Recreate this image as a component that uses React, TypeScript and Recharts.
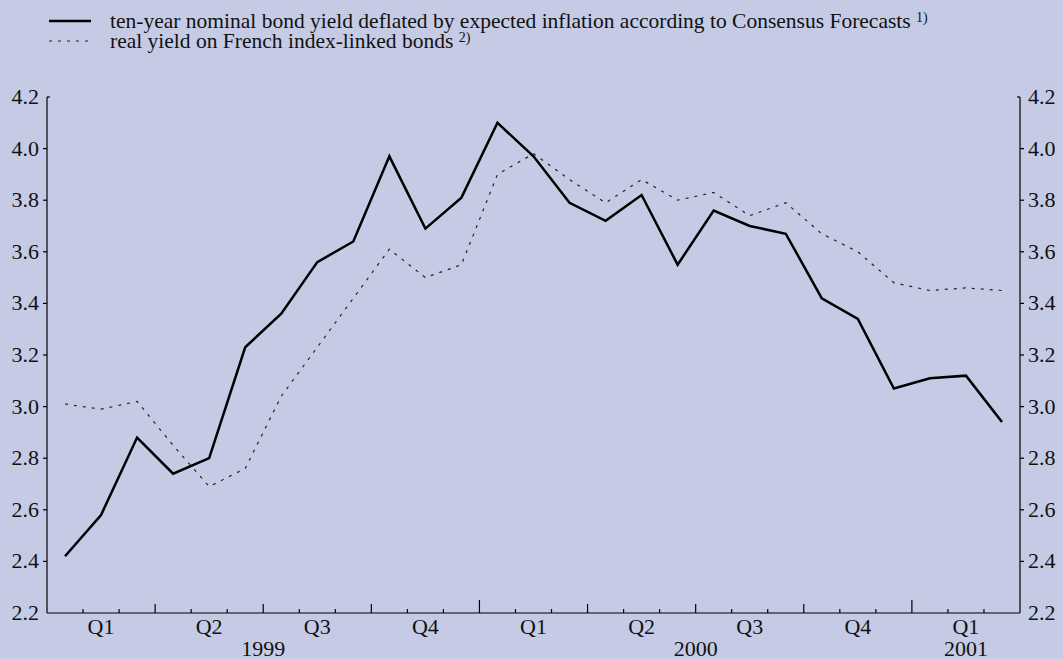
import React from 'react';
import { LineChart, Line, XAxis, YAxis } from 'recharts';

// monthly, Jan 1999 - Mar 2001
const months = [
  'Jan 99', 'Feb 99', 'Mar 99', 'Apr 99', 'May 99', 'Jun 99', 'Jul 99', 'Aug 99', 'Sep 99',
  'Oct 99', 'Nov 99', 'Dec 99', 'Jan 00', 'Feb 00', 'Mar 00', 'Apr 00', 'May 00', 'Jun 00',
  'Jul 00', 'Aug 00', 'Sep 00', 'Oct 00', 'Nov 00', 'Dec 00', 'Jan 01', 'Feb 01', 'Mar 01',
];
const nominalDeflated = [
  2.42, 2.58, 2.88, 2.74, 2.80, 3.23, 3.36, 3.56, 3.64, 3.97, 3.69, 3.81, 4.10, 3.97,
  3.79, 3.72, 3.82, 3.55, 3.76, 3.70, 3.67, 3.42, 3.34, 3.07, 3.11, 3.12, 2.94,
];
const indexLinked = [
  3.01, 2.99, 3.02, 2.85, 2.69, 2.76, 3.04, 3.23, 3.42, 3.61, 3.50, 3.55, 3.90, 3.98,
  3.88, 3.79, 3.88, 3.80, 3.83, 3.74, 3.79, 3.67, 3.60, 3.48, 3.45, 3.46, 3.45,
];
const quarterLabels = ['Q1', 'Q2', 'Q3', 'Q4', 'Q1', 'Q2', 'Q3', 'Q4', 'Q1'];
const years = ['1999', '2000', '2001'];
const yTicks = [2.2, 2.4, 2.6, 2.8, 3.0, 3.2, 3.4, 3.6, 3.8, 4.0, 4.2];

const FONT = 'Liberation Serif, Times New Roman, DejaVu Serif, serif';
const BG = '#C6CBE5';
const TXT = '#111';
const FS = 22;

const data = months.map((m, i) => ({
  x: i + 0.5,
  month: m,
  nominal: nominalDeflated[i],
  linked: indexLinked[i],
}));

const monthTicks = months.map((_, i) => i).concat([months.length]);
const quarterCenters = quarterLabels.map((_, q) => q * 3 + 1.5);
const yearCenters = years.map((_, yi) => {
  const qs = quarterCenters.filter((c) => Math.floor(c / 12) === yi);
  return qs.reduce((a, b) => a + b, 0) / qs.length;
});
const xTicks = [...monthTicks, ...quarterCenters, ...yearCenters]
  .filter((v, i, arr) => arr.indexOf(v) === i)
  .sort((a, b) => a - b);

const XTick = (props: any) => {
  const { x, y, payload } = props;
  const v: number = payload.value;
  const items: React.ReactNode[] = [];
  if (Number.isInteger(v) && v > 0 && v < months.length) {
    const len = v % 12 === 0 ? 13 : v % 3 === 0 ? 9 : 4;
    items.push(<line key="t" x1={x} x2={x} y1={y} y2={y - len} stroke="#000" strokeWidth={1.2} />);
  }
  const qi = quarterCenters.indexOf(v);
  if (qi >= 0) {
    items.push(
      <text key="q" x={x} y={y + 20.5} textAnchor="middle" fontFamily={FONT} fontSize={FS} fill={TXT}>
        {quarterLabels[qi]}
      </text>
    );
  }
  const yi = yearCenters.indexOf(v);
  if (yi >= 0) {
    items.push(
      <text key="y" x={x} y={y + 43} textAnchor="middle" fontFamily={FONT} fontSize={FS} fill={TXT}>
        {years[yi]}
      </text>
    );
  }
  return <g>{items}</g>;
};

const YTick = (props: any) => {
  const { x, y, payload, side } = props;
  const v: number = payload.value;
  const dir = side === 'left' ? -1 : 1;
  let tick = null;
  if (v === 4.2) {
    tick = <line x1={x} x2={x - dir * 3} y1={y} y2={y} stroke="#000" strokeWidth={1.2} />;
  } else if (v !== 2.2) {
    tick = <line x1={x} x2={x + dir * 4} y1={y} y2={y} stroke="#000" strokeWidth={1.2} />;
  }
  return (
    <g>
      {tick}
      <text
        x={x + dir * 8}
        y={y + 7}
        textAnchor={side === 'left' ? 'end' : 'start'}
        fontFamily={FONT}
        fontSize={FS}
        fill={TXT}
      >
        {v.toFixed(1)}
      </text>
    </g>
  );
};

const sup: React.CSSProperties = { fontSize: 14, verticalAlign: 'top', position: 'relative', top: -3 };

export default function App() {
  return (
    <div style={{ position: 'fixed', left: 0, top: 0, width: 1063, height: 659, background: BG, overflow: 'hidden' }}>
      <div style={{ position: 'absolute', left: 0, top: 0, fontFamily: FONT, fontSize: 21.5, color: TXT, lineHeight: '20px' }}>
        <div style={{ position: 'absolute', left: 49, top: 11, whiteSpace: 'nowrap', display: 'flex', alignItems: 'center' }}>
          <svg width={42} height={20} style={{ display: 'block' }}>
            <line x1={0} x2={42} y1={10} y2={10} stroke="#000" strokeWidth={2.5} />
          </svg>
          <span style={{ marginLeft: 19 }}>
            ten-year nominal bond yield deflated by expected inflation according to Consensus Forecasts <span style={sup}>1)</span>
          </span>
        </div>
        <div style={{ position: 'absolute', left: 49, top: 31, whiteSpace: 'nowrap', display: 'flex', alignItems: 'center' }}>
          <svg width={42} height={20} style={{ display: 'block' }}>
            <line x1={0} x2={42} y1={10} y2={10} stroke="#222" strokeWidth={1.2} strokeDasharray="3 6" />
          </svg>
          <span style={{ marginLeft: 19 }}>
            real yield on French index-linked bonds <span style={sup}>2)</span>
          </span>
        </div>
      </div>
      <LineChart
        width={1063}
        height={659}
        data={data}
        margin={{ top: 97, right: 0, bottom: 0, left: 0 }}
        style={{ position: 'absolute', left: 0, top: 0 }}
      >
        <XAxis
          dataKey="x"
          type="number"
          domain={[0, months.length]}
          ticks={xTicks}
          interval={0}
          height={46}
          tickSize={0}
          tickMargin={0}
          tickLine={false}
          axisLine={{ stroke: '#000', strokeWidth: 1.2 }}
          tick={<XTick />}
        />
        <YAxis
          yAxisId="left"
          orientation="left"
          domain={[2.2, 4.2]}
          ticks={yTicks}
          interval={0}
          width={47}
          tickSize={0}
          tickMargin={0}
          tickLine={false}
          axisLine={{ stroke: '#000', strokeWidth: 1.2 }}
          tick={<YTick side="left" />}
        />
        <YAxis
          yAxisId="right"
          orientation="right"
          domain={[2.2, 4.2]}
          ticks={yTicks}
          interval={0}
          width={43}
          tickSize={0}
          tickMargin={0}
          tickLine={false}
          axisLine={{ stroke: '#000', strokeWidth: 1.2 }}
          tick={<YTick side="right" />}
        />
        <Line
          yAxisId="right"
          dataKey="linked"
          stroke="#222"
          strokeWidth={1.2}
          strokeDasharray="3 6"
          dot={false}
          isAnimationActive={false}
        />
        <Line
          yAxisId="left"
          dataKey="nominal"
          stroke="#000"
          strokeWidth={2.5}
          dot={false}
          isAnimationActive={false}
        />
      </LineChart>
    </div>
  );
}
